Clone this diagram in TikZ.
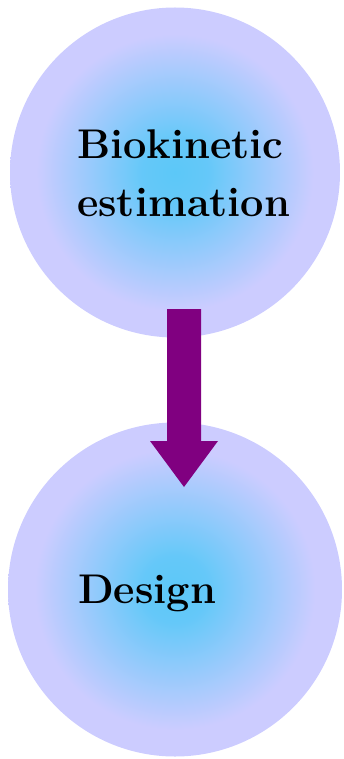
\documentclass[tikz,border=0pt]{standalone}
\usetikzlibrary{shadings}
\definecolor{ctr}{RGB}{92,200,248}
\definecolor{rim}{RGB}{204,204,255}
\definecolor{arrowpurple}{RGB}{128,0,128}
\pgfdeclareradialshading{ballglow}{\pgfpoint{0bp}{0bp}}{%
  color(0bp)=(ctr); color(5bp)=(ctr!92!rim); color(21bp)=(rim); color(50bp)=(rim)}
\tikzset{
  ball/.style={circle, minimum size=#1, inner sep=0pt, shading=ballglow},
  lbl/.style={anchor=base west, inner sep=0pt, font=\fontsize{41.5}{58}\selectfont\bfseries},
}
\begin{document}
\begin{tikzpicture}[x=1pt,y=-1pt]
\useasboundingbox (0,0) rectangle (343,759);
\node[ball=330pt] (top) at (175,172.5) {};
\node[ball=334pt] (bot) at (175,589.5) {};
\node[lbl] (l1) at (77,159) {Biokinetic};
\node[lbl] (l2) at (77,217) {estimation};
\node[lbl] (l3) at (78,603) {Design};
\fill[arrowpurple] (167,309) -- (201,309) -- (201,441) -- (218,441) -- (184,487) -- (150,441) -- (167,441) -- cycle;
\end{tikzpicture}
\end{document}
